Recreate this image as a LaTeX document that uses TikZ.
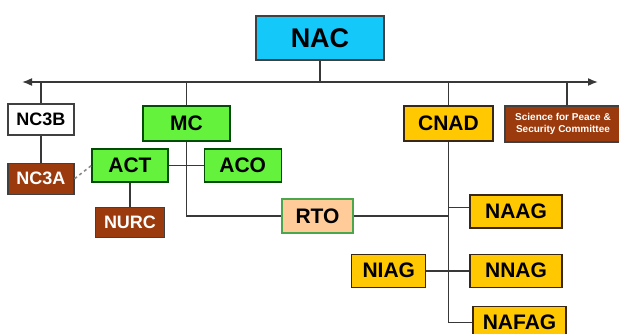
\documentclass[tikz,border=0pt]{standalone}
\usepackage{fontspec}
\setmainfont{Liberation Sans}
\usetikzlibrary{arrows.meta,positioning}
\definecolor{nacblue}{RGB}{20,200,250}
\definecolor{mcgreen}{RGB}{100,242,60}
\definecolor{nbrown}{RGB}{155,58,12}
\definecolor{cgold}{RGB}{255,200,0}
\definecolor{rtopeach}{RGB}{255,204,153}
\tikzset{orgbox/.style={
    % The shape:
    rectangle,
    inner sep=0pt,
    % The border:
    line width=1.2pt,
    draw=black!75,
    % Font
    font=\bfseries\fontsize{21}{21}\selectfont
    },
    topbox/.style={
    orgbox,
    minimum width=128pt,
    minimum height=44pt,
    fill=nacblue,
    font=\bfseries\fontsize{27}{27}\selectfont,
    },
    greenbox/.style={
    orgbox,
    fill=mcgreen,
    draw=black!70!green,
    },
    goldbox/.style={
    orgbox,
    fill=cgold,
    draw=black!70!brown,
    },
    brownbox/.style={
    orgbox,
    fill=nbrown,
    text=white,
    font=\bfseries\fontsize{18}{18}\selectfont,
    },
    whitebox/.style={
    orgbox,
    fill=white,
    font=\bfseries\fontsize{18}{18}\selectfont,
    },
    rtobox/.style={
    orgbox,
    fill=rtopeach,
    draw=green!50!black!70,
    },
    link/.style={
    draw=black!78,
    line width=1.6pt,
    },
}

\begin{document}
\begin{tikzpicture}[x=1pt,y=-1pt]
    \useasboundingbox (0,0) rectangle (619,334);
    \node (nac)   [topbox] at (320,38) {NAC};
    \coordinate (busleft)  at (22,82);
    \coordinate (busright) at (598,82);

    \node (nc3b)  [whitebox,minimum width=66pt,minimum height=31pt] at (41,119.5) {NC3B};
    \node (nc3a)  [brownbox,minimum width=66pt,minimum height=31pt,below=27pt of nc3b] {NC3A};

    \node (mc)    [greenbox,minimum width=87pt,minimum height=35pt] at (186.5,123.5) {MC};
    \node (act)   [greenbox,minimum width=76pt,minimum height=33pt] at (130,165.5) {ACT};
    \node (aco)   [greenbox,minimum width=77pt,minimum height=33pt,right=35pt of act] {ACO};
    \node (nurc)  [brownbox,minimum width=69pt,minimum height=30pt,below=24pt of act] {NURC};
    \node (rto)   [rtobox,minimum width=71pt,minimum height=34pt] at (317.5,216) {RTO};

    \node (cnad)  [goldbox,minimum width=89pt,minimum height=35pt] at (448.5,123.5) {CNAD};
    \node (spsc)  [brownbox,minimum width=116pt,minimum height=36pt,align=center,
                   font=\bfseries\fontsize{10}{11.5}\selectfont] at (563,124)
                  {Science for Peace \&\\Security Committee};
    \node (naag)  [goldbox,minimum width=92pt,minimum height=33pt] at (516,211.5) {NAAG};
    \node (nnag)  [goldbox,minimum width=92pt,minimum height=33pt,below=25pt of naag] {NNAG};
    \node (niag)  [goldbox,minimum width=74pt,minimum height=33pt,left=43pt of nnag] {NIAG};
    \node (nafag) [goldbox,minimum width=93pt,minimum height=32pt,below=18pt of nnag,xshift=3.5pt] {NAFAG};

    \draw[link] (nac) -- (nac |- busleft);
    \draw[link,{Latex[length=10pt,width=8pt]}-{Latex[length=10pt,width=8pt]}] (busleft) -- (busright);
    \draw[link] (nc3b) -- (nc3b |- busleft);
    \draw[link] (nc3b) -- (nc3a);
    \draw[link] (mc) -- (mc |- busleft);
    \draw[link] (cnad) -- (cnad |- busleft);
    \draw[link] ([xshift=4pt]spsc.north) -- ([xshift=4pt]spsc.north |- busleft);
    \draw[link] (mc) -- (mc |- rto) -- (rto);
    \draw[link] (act) -- (aco);
    \draw[link] (act) -- (nurc);
    \draw[link,draw=black!45,dashed] (nc3a.east) -- (act.west);
    \draw[link] (rto) -- (rto -| cnad);
    \draw[link] (cnad) -- (cnad |- nafag) -- (nafag);
    \draw[link] ([yshift=4pt]naag.west) -- ([yshift=4pt]naag.west -| cnad);
    \draw[link] (niag) -- (nnag);
\end{tikzpicture}
\end{document}
